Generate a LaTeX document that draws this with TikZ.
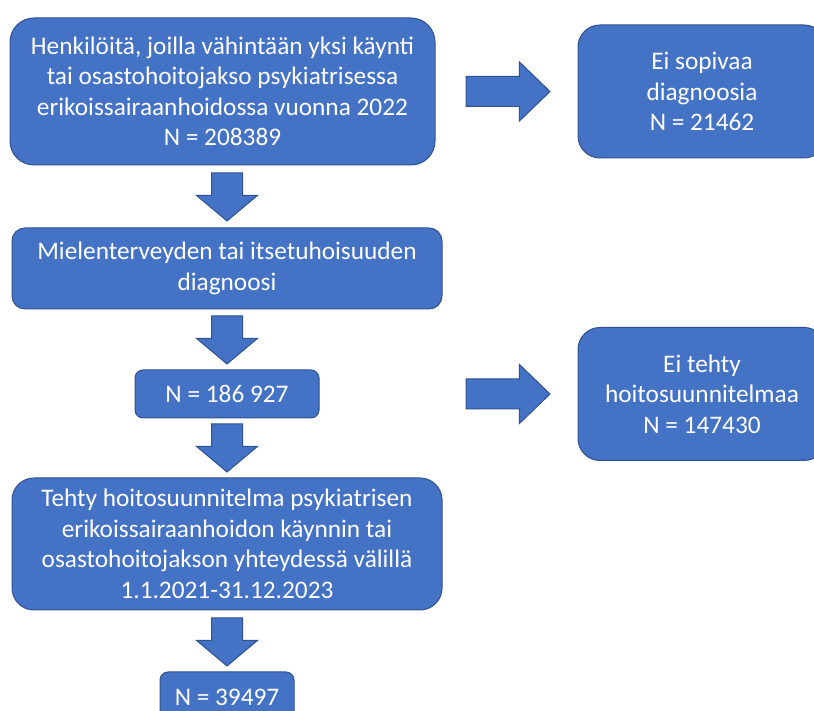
\documentclass[tikz,border=0pt]{standalone}
\usepackage{fontspec}
\setmainfont{Carlito}
\usetikzlibrary{positioning,shapes.arrows,calc}
\definecolor{boxblue}{HTML}{4472C4}
\definecolor{edgeblue}{HTML}{2F528F}

\begin{document}
\begin{tikzpicture}[x=1pt,y=1pt,
						box/.style={rectangle, draw=edgeblue, fill=boxblue, line width=1pt, text=white, inner sep=0pt, align=center, font=\fontsize{25.3}{30.5}\selectfont},
						downarr/.style={single arrow, draw=edgeblue, fill=boxblue, line width=1pt, inner sep=15pt, minimum height=48pt, single arrow head extend=15pt, single arrow tip angle=100, shape border rotate=270, anchor=tail},
						rightarr/.style={single arrow, draw=edgeblue, fill=boxblue, line width=1pt, inner sep=14.5pt, minimum height=84pt, single arrow head extend=14.5pt, single arrow tip angle=88, anchor=tail}
					]
					\useasboundingbox (0,0) rectangle (814,711);
					\node[box, minimum width=425pt, minimum height=147pt, rounded corners=24pt] (henk) at (222.5,619.5) {Henkilöitä, joilla vähintään yksi käynti\\tai osastohoitojakso psykiatrisessa\\erikoissairaanhoidossa vuonna 2022\\N = 208389};
					\node[box, minimum width=430pt, minimum height=81pt, rounded corners=13pt] (diag) [below=62pt of henk, xshift=4.5pt] {Mielenterveyden tai itsetuhoisuuden\\diagnoosi};
					\node[box, minimum width=184pt, minimum height=48pt, rounded corners=8pt] (n1) [below=60pt of diag] {N = 186 927};
					\node[box, minimum width=430pt, minimum height=132pt, rounded corners=22pt] (tehty) [below=59pt of n1] {Tehty hoitosuunnitelma psykiatrisen\\erikoissairaanhoidon käynnin tai\\osastohoitojakson yhteydessä välillä\\1.1.2021-31.12.2023};
					\node[box, minimum width=134pt, minimum height=50pt, rounded corners=8pt] (n2) [below=61pt of tehty] {N = 39497};
					\node[box, minimum width=248pt, minimum height=133pt, rounded corners=22pt] (eisop) [right=142pt of henk] {Ei sopivaa\\diagnoosia\\N = 21462};
					\node[box, minimum width=248pt, minimum height=133pt, rounded corners=22pt] (eiteh) at (eisop |- n1) {Ei tehty\\hoitosuunnitelmaa\\N = 147430};
					% lohkonuolet
					\node[downarr] (d1) at ($(henk.south)+(4.5,-7)$) {};
					\node[downarr] (d2) at ($(diag.south)+(0,-6)$) {};
					\node[downarr] (d3) at ($(n1.south)+(0,-5)$) {};
					\node[downarr] (d4) at ($(tehty.south)+(0,-7)$) {};
					\node[rightarr] (r1) at ($(henk.east)+(30,0)$) {};
					\node[rightarr] (r2) at (r1.tail |- eiteh) {};
					\end{tikzpicture}
\end{document}
